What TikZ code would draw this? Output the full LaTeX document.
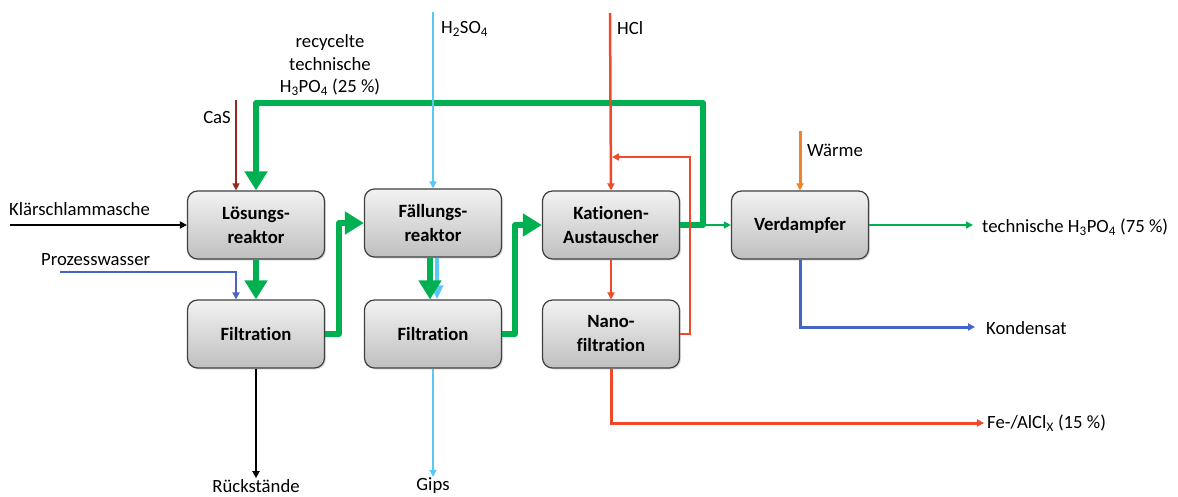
\documentclass[tikz,border=0pt]{standalone}
\usepackage{fontspec}
\setmainfont{Carlito}[Ligatures=NoCommon]
\usetikzlibrary{calc,arrows.meta,shadows}
\definecolor{gruen}{RGB}{0,176,80}
\definecolor{hblau}{RGB}{90,200,245}
\definecolor{rot}{RGB}{240,72,40}
\definecolor{blau}{RGB}{70,100,200}
\definecolor{braun}{RGB}{150,40,30}
\definecolor{waerme}{RGB}{240,130,40}
\newcommand{\schrift}{\fontsize{18.7}{22.5}\selectfont}
\tikzset{
  box/.style={draw=black!75,line width=1.2pt,rounded corners=10pt,
    top color=gray!10,bottom color=gray!50,minimum width=137pt,minimum height=68pt,
    align=center,inner sep=0pt,font=\fontsize{18.7}{24}\selectfont\bfseries,
    drop shadow={shadow xshift=1.5pt,shadow yshift=-1.5pt,opacity=.25}},
  lbl/.style={font=\schrift,inner sep=1pt},
  fluss/.style={line width=2pt,-{Triangle[length=7pt,width=7pt]}},
  dick/.style={line width=6pt,gruen,line join=round,-{Triangle[length=19pt,width=22pt]}}
}
\begin{document}
\begin{tikzpicture}[x=1pt,y=-1pt]
    \useasboundingbox (0,0) rectangle (1178,497);
    % Apparate
    \node[box](L)at(256,225){L\"osungs-\\reaktor};
    \node[box](F1)at(256,334){Filtration};
    \node[box](P)at(433,223){F\"allungs-\\reaktor};
    \node[box](F2)at(433,334){Filtration};
    \node[box](K)at(611,225){Kationen-\\Austauscher};
    \node[box](N)at(611,334){Nano-\\filtration};
    \node[box](V)at(800,225){Verdampfer};
    % freie Enden
    \coordinate(ka)at(10,225);
    \coordinate(pw)at(60,272);
    \coordinate(cas)at(236,100);
    \coordinate(s)at(433,12);
    \coordinate(hcl)at(610,13);
    \coordinate(R)at(703,103);
    \coordinate(RL)at(690,157);
    \coordinate(RM)at(612,157);
    \coordinate(w)at(800,131);
    \coordinate(tp)at(973,225);
    \coordinate(ko)at(975,327);
    \coordinate(fe)at(984,423);
    \node[lbl](rs)at(256,486){R\"uckst\"ande};
    \node[lbl](gips)at(433,486){Gips};
    % Phosphorsaeure
    \draw[dick](K.east)-|(R)-|(L.north);
    \draw[dick](L.south)--(F1.north);
    \draw[dick](F1.east)--++(14,0)|-(P.west);
    \draw[hblau,line width=3.5pt,-{Triangle[length=14pt,width=12pt]}]($(P.south)+(4,0)$)--($(F2.north)+(4,0)$);
    \draw[dick]($(P.south)+(-3,0)$)--($(F2.north)+(-3,0)$);
    \draw[dick](F2.east)--++(13,0)|-(K.west);
    \draw[fluss,gruen](K.east)--(V.west);
    \draw[fluss,gruen](V.east)--(tp);
    % Zufluesse und Abfluesse
    \draw[fluss,black](ka)--(L.west);
    \draw[fluss,blau,line width=2.5pt](pw)-|($(F1.north)+(-20,0)$);
    \draw[fluss,braun,line width=1.2pt](cas)--($(L.north)+(-20,0)$);
    \draw[fluss,hblau,line width=2.5pt](s)--(P.north);
    \draw[fluss,hblau,line width=2.5pt](F2.south)--(gips);
    \draw[fluss,black](F1.south)--(rs);
    \draw[fluss,rot,line width=2.5pt](hcl)--(K.north);
    \draw[fluss,rot,line width=2.5pt](K.south)--(N.north);
    \draw[fluss,rot,line width=2.5pt](N.east)-|(RL)--(RM);
    \draw[fluss,rot,line width=3pt](N.south)|-(fe);
    \draw[fluss,waerme,line width=3pt](w)--(V.north);
    \draw[fluss,blau,line width=3pt](V.south)|-(ko);
    % Beschriftungen
    \node[lbl,anchor=west]at(8,209){Kl\"arschlammasche};
    \node[lbl,anchor=west]at(40,260){Prozesswasser};
    \node[lbl,anchor=east]at(232,118){CaS};
    \node[lbl,align=center]at(330,65){recycelte\\technische\\H\textsubscript{3}PO\textsubscript{4} (25 \%)};
    \node[lbl,anchor=west]at(440,29){H\textsubscript{2}SO\textsubscript{4}};
    \node[lbl,anchor=west]at(616,28){HCl};
    \node[lbl,anchor=west]at(806,150){W\"arme};
    \node[lbl,anchor=west]at(981,227){technische H\textsubscript{3}PO\textsubscript{4} (75 \%)};
    \node[lbl,anchor=west]at(985,328){Kondensat};
    \node[lbl,anchor=west]at(986,423){Fe-/AlCl\textsubscript{X} (15 \%)};
\end{tikzpicture}
\end{document}
